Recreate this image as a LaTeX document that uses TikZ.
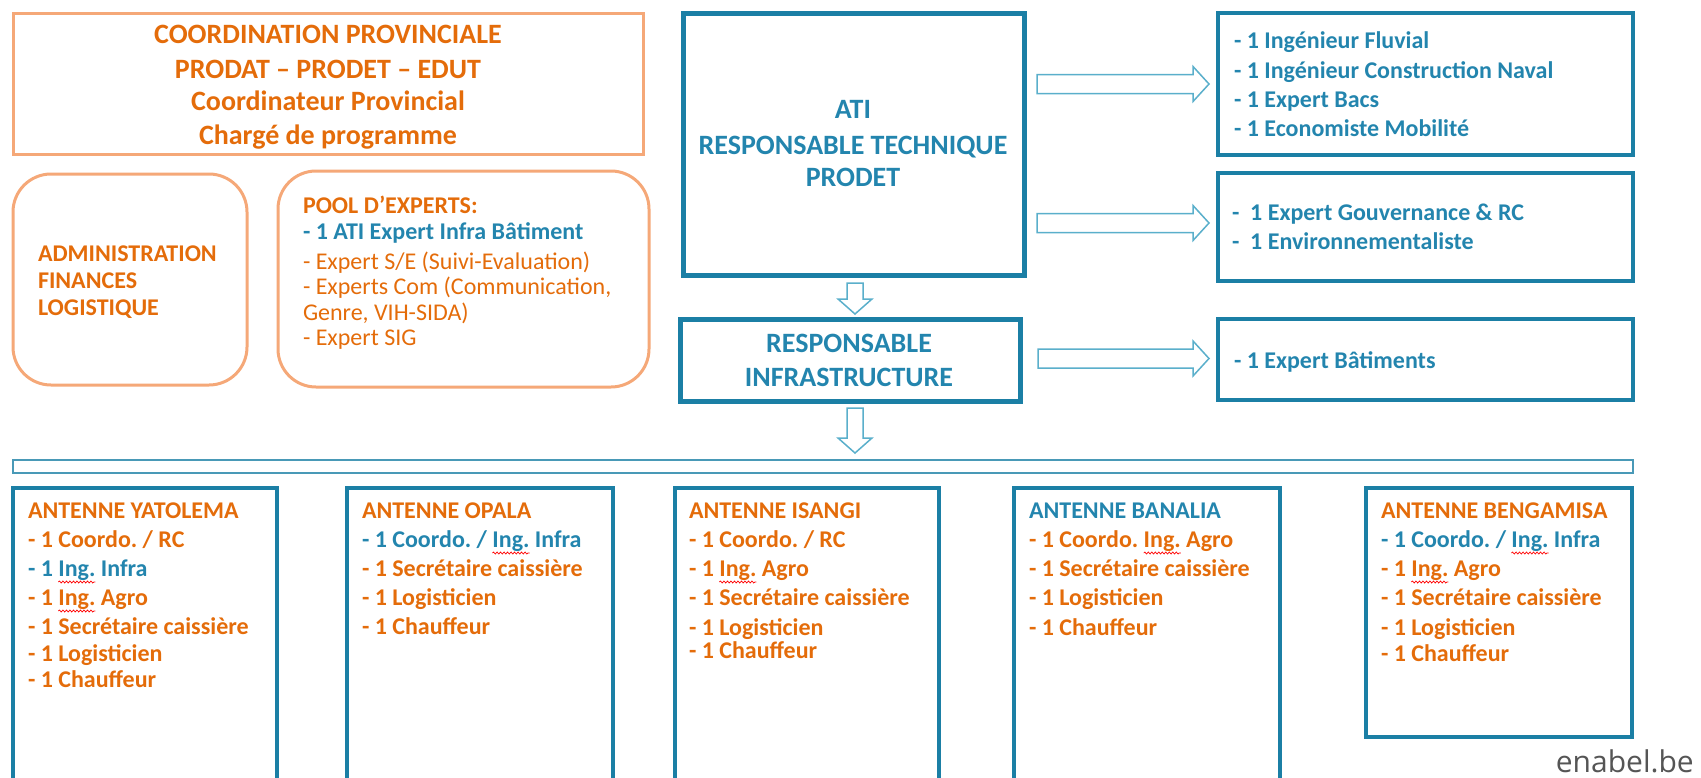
\documentclass[tikz,border=0pt]{standalone}
\usepackage{fontspec}
\setmainfont{Carlito}
\newfontfamily\enfont{Open Sans}
\usetikzlibrary{calc,decorations.pathmorphing}
\frenchspacing
\definecolor{orT}{HTML}{E46C0A}
\definecolor{blT}{HTML}{2385AE}
\definecolor{blB}{HTML}{1B7FA5}
\definecolor{orB}{HTML}{F5A878}
\definecolor{arB}{HTML}{5AAFCB}
\definecolor{grT}{HTML}{555555}
\newlength\inglen
\newcommand\ingw[1]{\settowidth\inglen{#1}\rlap{\tikz[overlay,x=1pt,y=1pt]\draw[red, line width=0.7pt, decorate, decoration={snake, amplitude=1pt, segment length=3.5pt}] (0pt,-6pt) -- (\inglen,-6pt);}#1}
\newcommand\rbox[6]{\node[#1, inner sep=0, outer sep=0, minimum width={#5-#3}, minimum height={#6-#4}] (#2) at ({(#3+#5)/2},{(#4+#6)/2}) {};}
\newcommand\harr[2]{\draw[barrow] let \p1=(#1), \p2=(#2) in
  ({\x1},{\y1+9.5pt}) -- ({\x2-16pt},{\y1+9.5pt}) -- ({\x2-16pt},{\y1+17.5pt}) -- ({\x2},{\y1})
  -- ({\x2-16pt},{\y1-17.5pt}) -- ({\x2-16pt},{\y1-9.5pt}) -- ({\x1},{\y1-9.5pt}) -- cycle;}
\newcommand\varr[2]{\draw[barrow] let \p1=(#1), \p2=(#2) in
  ({\x1-8pt},{\y1}) -- ({\x1-8pt},{\y2+15pt}) -- ({\x1-17pt},{\y2+15pt}) -- ({\x1},{\y2})
  -- ({\x1+17pt},{\y2+15pt}) -- ({\x1+8pt},{\y2+15pt}) -- ({\x1+8pt},{\y1}) -- cycle;}
\begin{document}
\begin{tikzpicture}[x=1pt,y=-1pt,
  obox/.style={draw=orB, line width=3pt},
  rbox/.style={draw=orB, line width=3pt, rounded corners=38pt},
  bbox/.style={draw=blB, line width=5pt},
  tbox/.style={draw=blB, line width=3.5pt},
  barbox/.style={draw=blB!80, line width=1.8pt},
  barrow/.style={draw=arB, line width=1.5pt, fill=white, line join=miter},
  t/.style={anchor=base west, inner sep=0, outer sep=0, font=\fontsize{24}{28}\selectfont\bfseries, text=orT},
  tc/.style={anchor=base, inner sep=0, outer sep=0, text=orT},
  tr/.style={t, font=\fontsize{24}{28}\selectfont},
  tb/.style={t, text=blT},
]
\useasboundingbox (0,0) rectangle (1701,777);
\clip (0,0) rectangle (1701,777);

% boxes
\rbox{obox}{top}{13}{13}{643}{154}
\rbox{rbox}{admin}{13}{174}{247}{385}
\rbox{rbox}{pool}{278}{171}{649}{387}
\rbox{bbox}{ati}{683}{13}{1024}{275}
\rbox{bbox}{infra}{680}{319}{1020}{401}
\rbox{tbox}{r1}{1218}{13}{1633}{155}
\rbox{tbox}{r2}{1218}{173}{1633}{281}
\rbox{tbox}{r3}{1218}{319}{1633}{400}
\rbox{barbox}{bar}{13}{460}{1633}{473}
\rbox{tbox}{aY}{13}{488}{277}{800}
\rbox{tbox}{aO}{347}{488}{613}{800}
\rbox{tbox}{aI}{675}{488}{939}{800}
\rbox{tbox}{aB}{1014}{488}{1280}{800}
\rbox{tbox}{aBe}{1366}{488}{1632}{737}

% top box text
\begin{scope}[every node/.style={tc, font=\fontsize{28}{32}\selectfont\bfseries}]
\node (top1) at (328,43) {COORDINATION PROVINCIALE};
\node (top2) at (328,78) {PRODAT -- PRODET -- EDUT};
\node (top3) at (328,110.5) {Coordinateur Provincial};
\node (top4) at (328,144) {Chargé de programme};
\end{scope}

% admin
\node[t] (ad1) at (38,261.5) {ADMINISTRATION};
\node[t] (ad2) at (38,288.5) {FINANCES};
\node[t] (ad3) at (38,315.5) {LOGISTIQUE};

% pool
\node[t] (p1) at (303,213.5) {POOL D’EXPERTS:};
\node[tb] (p2) at (303,239.5) {- 1 ATI Expert Infra Bâtiment};
\node[tr] (p3) at (303,269) {- Expert S/E (Suivi-Evaluation)};
\node[tr] (p4) at (303,294) {-\ Experts Com (Communication,};
\node[tr] (p5) at (303,320) {Genre, VIH-SIDA)};
\node[tr] (p6) at (303,345) {- Expert SIG};

% ATI
\begin{scope}[every node/.style={tc, text=blT, font=\fontsize{28}{32}\selectfont\bfseries}]
\node (ati1) at (853,118) {ATI};
\node (ati2) at (853,154) {RESPONSABLE TECHNIQUE};
\node (ati3) at (853,186) {PRODET};
\node (inf1) at (849,352) {RESPONSABLE};
\node (inf2) at (849,386) {INFRASTRUCTURE};
\end{scope}

% right boxes
\node[tb] (r1a) at (1234,48) {- 1 Ingénieur Fluvial};
\node[tb] (r1b) at (1234,78) {- 1 Ingénieur Construction Naval};
\node[tb] (r1c) at (1234,107) {- 1 Expert Bacs};
\node[tb] (r1d) at (1234,136) {- 1 Economiste Mobilité};
\node[tb] (r2a) at (1232,220) {-\ \ 1 Expert Gouvernance \& RC};
\node[tb] (r2b) at (1232,249) {-\ \ 1 Environnementaliste};
\node[tb] (r3a) at (1234,368) {- 1 Expert Bâtiments};

% arrows
\coordinate (h1s) at ($(ati.east |- r1.west)+(13,0)$);
\coordinate (h1t) at ($(r1.west)+(-9,0)$);
\coordinate (h2s) at ($(ati.east |- r2.west)+(13,-4)$);
\coordinate (h2t) at ($(r2.west)+(-9,-4)$);
\coordinate (h3s) at ($(infra.east |- r3.west)+(18,-1)$);
\coordinate (h3t) at ($(r3.west)+(-9,-1)$);
\harr{h1s}{h1t}
\harr{h2s}{h2t}
\harr{h3s}{h3t}
\coordinate (d1s) at ($(ati.south)+(1.5,8)$);
\coordinate (d1t) at ($(infra.north -| d1s)+(0,-5)$);
\coordinate (d2s) at ($(d1s |- infra.south)+(0,7)$);
\coordinate (d2t) at ($(bar.north -| d2s)+(0,-7)$);
\varr{d1s}{d1t}
\varr{d2s}{d2t}

% antennas
\node[t] (y0) at (28,518) {ANTENNE YATOLEMA};
\node[t] (y1) at (28,547) {- 1 Coordo. / RC};
\node[tb] (y2) at (28,576) {- 1 \ingw{Ing.} Infra};
\node[t] (y3) at (28,605) {- 1 \ingw{Ing.} Agro};
\node[t] (y4) at (28,634) {- 1 Secrétaire caissière};
\node[t] (y5) at (28,661) {- 1 Logisticien};
\node[t] (y6) at (28,687) {- 1 Chauffeur};

\node[t] (o0) at (362,518) {ANTENNE OPALA};
\node[tb] (o1) at (362,547) {- 1 Coordo. / \ingw{Ing.} Infra};
\node[t] (o2) at (362,576) {- 1 Secrétaire caissière};
\node[t] (o3) at (362,605) {- 1 Logisticien};
\node[t] (o4) at (362,634) {- 1 Chauffeur};

\node[t] (i0) at (689,518) {ANTENNE ISANGI};
\node[t] (i1) at (689,547) {- 1 Coordo. / RC};
\node[t] (i2) at (689,576) {- 1 \ingw{Ing.} Agro};
\node[t] (i3) at (689,605) {- 1 Secrétaire caissière};
\node[t] (i4) at (689,635) {- 1 Logisticien};
\node[t] (i5) at (689,658) {- 1 Chauffeur};

\node[tb] (b0) at (1029,518) {ANTENNE BANALIA};
\node[t] (b1) at (1029,547) {- 1 Coordo. \ingw{Ing.} Agro};
\node[t] (b2) at (1029,576) {- 1 Secrétaire caissière};
\node[t] (b3) at (1029,605) {- 1 Logisticien};
\node[t] (b4) at (1029,635) {- 1 Chauffeur};

\node[t] (g0) at (1381,518) {ANTENNE BENGAMISA};
\node[tb] (g1) at (1381,547) {- 1 Coordo. / \ingw{Ing.} Infra};
\node[t] (g2) at (1381,576) {- 1 \ingw{Ing.} Agro};
\node[t] (g3) at (1381,605) {- 1 Secrétaire caissière};
\node[t] (g4) at (1381,635) {- 1 Logisticien};
\node[t] (g5) at (1381,661) {- 1 Chauffeur};

% logo text
\node[anchor=base east, inner sep=0, text=grT, font=\enfont\fontsize{30}{34}\selectfont] (logo) at (1694,772) {enabel.be};
\end{tikzpicture}
\end{document}
